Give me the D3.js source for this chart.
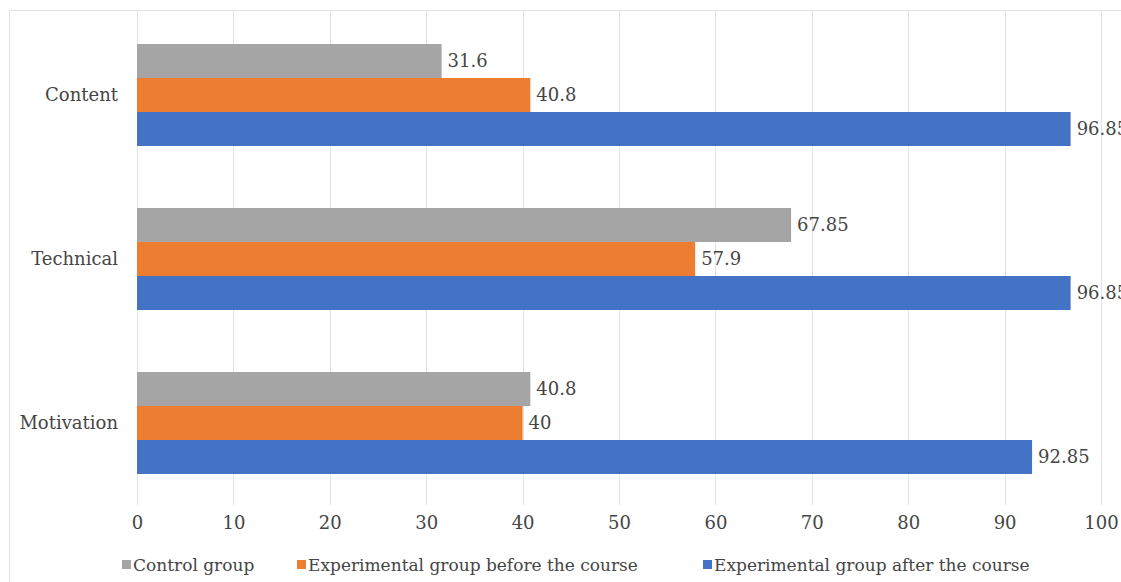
<!DOCTYPE html>
<html>
<head>
<meta charset="utf-8">
<script src="https://cdn.jsdelivr.net/npm/d3@7"></script>
<style>
html,body{margin:0;padding:0;background:#fff;overflow:hidden;}
.lbl{font-family:"DejaVu Serif", serif;}
</style>
</head>
<body>
<svg id="chart" width="1121" height="582"></svg>
<script>
const categories = ["Content", "Technical", "Motivation"];
const seriesNames = ["Control group", "Experimental group before the course", "Experimental group after the course"];
const controlGroup = [31.6, 67.85, 40.8];
const experimentalBefore = [40.8, 57.9, 40];
const experimentalAfter = [96.85, 96.85, 92.85];
const tickValues = [0, 10, 20, 30, 40, 50, 60, 70, 80, 90, 100];
const colors = ["#A5A5A5", "#ED7D31", "#4472C4"];

const seriesValues = [controlGroup, experimentalBefore, experimentalAfter];
const svg = d3.select("#chart");
const W = 1121, H = 582;
const textColor = "#454545";
const FS = 18;

svg.append("rect").attr("width", W).attr("height", H).attr("fill", "#fff");
svg.append("rect").attr("x", 9.5).attr("y", 10.5).attr("width", W + 20).attr("height", H + 20)
  .attr("fill", "none").attr("stroke", "#E3E3E3").attr("stroke-width", 1);

const x = d3.scaleLinear().domain([0, 100]).range([137, 1101]);
const y = d3.scaleBand().domain(categories).range([13, 505]).paddingInner(0.378).paddingOuter(0.189);
const ySub = d3.scaleBand().domain(seriesNames).range([0, y.bandwidth()]);

svg.append("g").selectAll("line").data(tickValues).join("line")
  .attr("x1", d => Math.round(x(d)) + 0.5).attr("x2", d => Math.round(x(d)) + 0.5)
  .attr("y1", 11).attr("y2", 505)
  .attr("stroke", "#E3E3E3").attr("stroke-width", 1);

const xAxis = d3.axisBottom(x).tickValues(tickValues).tickSize(0).tickPadding(0).tickFormat(d3.format("d"));
const gx = svg.append("g").attr("transform", "translate(0,516)").call(xAxis);
gx.select(".domain").remove();
gx.attr("font-family", null).attr("font-size", null);
gx.selectAll("text").attr("class", "lbl").style("font-size", FS + "px").attr("fill", textColor).attr("dy", "0.71em");

const yAxis = d3.axisLeft(y).tickSize(0).tickPadding(19);
const gy = svg.append("g").attr("transform", "translate(137,0)").call(yAxis);
gy.select(".domain").remove();
gy.attr("font-family", null).attr("font-size", null);
gy.selectAll("text").attr("class", "lbl").style("font-size", FS + "px").attr("fill", textColor);

const groups = svg.append("g").selectAll("g").data(categories).join("g")
  .attr("transform", d => `translate(0,${y(d)})`);
groups.each(function(cat, ci) {
  const g = d3.select(this);
  seriesNames.forEach((s, si) => {
    const v = seriesValues[si][ci];
    g.append("rect")
      .attr("x", x(0)).attr("y", ySub(s))
      .attr("width", x(v) - x(0)).attr("height", ySub.bandwidth())
      .attr("fill", colors[si]);
    g.append("text").attr("class", "lbl")
      .attr("x", x(v) + 6).attr("y", ySub(s) + ySub.bandwidth() / 2)
      .attr("dy", "0.35em").style("font-size", FS + "px").attr("fill", textColor)
      .text(v);
  });
});

const legendX = [122, 297, 703];
const legend = svg.append("g").selectAll("g").data(seriesNames).join("g")
  .attr("transform", (d, i) => `translate(${legendX[i]},565)`);
legend.append("rect").attr("x", 0).attr("y", -5).attr("width", 9).attr("height", 9)
  .attr("fill", (d, i) => colors[i]);
legend.append("text").attr("class", "lbl").attr("x", 11).attr("y", 0).attr("dy", "0.35em")
  .style("font-size", "17px").attr("fill", textColor).text(d => d);
</script>
</body>
</html>
